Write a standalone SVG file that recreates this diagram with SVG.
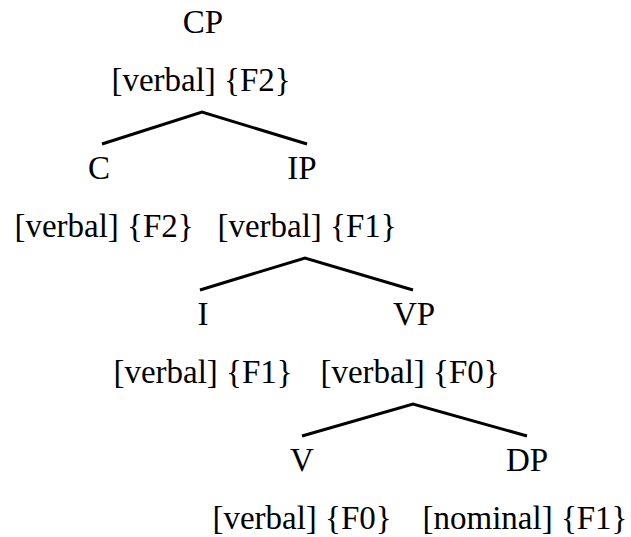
<svg xmlns="http://www.w3.org/2000/svg" width="631" height="537" viewBox="0 0 631 537">
<style>
text{font-family:"Liberation Serif","Times New Roman",serif;font-size:33px;fill:#000;text-anchor:middle}
.edge{fill:none;stroke:#000;stroke-width:3;stroke-linejoin:miter}
</style>
<rect width="631" height="537" fill="#fff"/>
<g id="connectors">
<polyline class="edge" points="102,144 202,112 307,144"/>
<polyline class="edge" points="200,290 305,258 413,290"/>
<polyline class="edge" points="302,436 413,404 527,436"/>
</g>
<g id="CP"><text x="203" y="33">CP</text><text x="201" y="91">[verbal] {F2}</text></g>
<g id="C"><text x="99" y="179">C</text><text x="104" y="237">[verbal] {F2}</text></g>
<g id="IP"><text x="302" y="179">IP</text><text x="307" y="237">[verbal] {F1}</text></g>
<g id="I"><text x="203" y="325">I</text><text x="203" y="383">[verbal] {F1}</text></g>
<g id="VP"><text x="414" y="325">VP</text><text x="410" y="383">[verbal] {F0}</text></g>
<g id="V"><text x="302" y="471">V</text><text x="302" y="529">[verbal] {F0}</text></g>
<g id="DP"><text x="527" y="471">DP</text><text x="525" y="529">[nominal] {F1}</text></g>
</svg>
